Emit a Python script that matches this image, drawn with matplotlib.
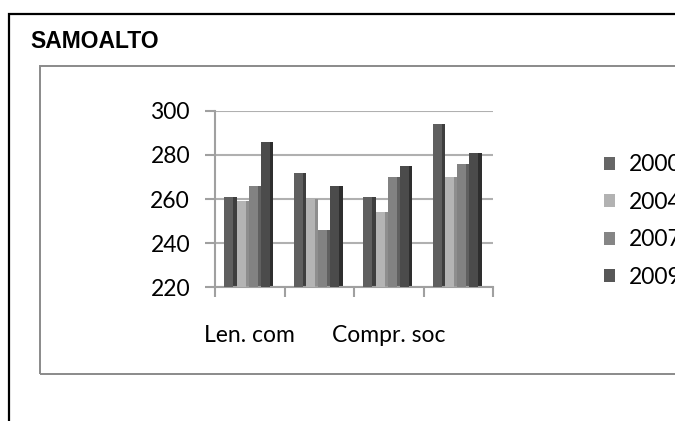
import matplotlib
matplotlib.use("Agg")
import matplotlib.pyplot as plt
from matplotlib.patches import Rectangle, Patch
import numpy as np

title = "SAMOALTO"
categories = ["Len. com", "", "Compr. soc", ""]
series_names = ["2000", "2004", "2007", "2009"]
v2000 = [261, 272, 261, 294]
v2004 = [259, 260, 254, 270]
v2007 = [266, 246, 270, 276]
v2009 = [286, 266, 275, 281]
yticks = [220, 240, 260, 280, 300]

values = [v2000, v2004, v2007, v2009]
front = ["#5f5f5f", "#b4b4b4", "#828282", "#4b4b4b"]
side = ["#3e3e3e", "#8e8e8e", "#606060", "#2e2e2e"]
legend_cols = ["#666666", "#b2b2b2", "#858585", "#575757"]

W, H = 675, 421
fig = plt.figure(figsize=(W / 100, H / 100), dpi=100)
fig.patch.set_facecolor("white")

def fx(px):
    return px / W

def fy(py):
    return 1 - py / H

# outer black frame (cut at right/bottom)
fig.patches.append(Rectangle((fx(9), fy(440)), fx(700), fy(14) - fy(440),
                             transform=fig.transFigure, fill=False,
                             edgecolor="black", linewidth=1.6))
# inner gray frame
fig.patches.append(Rectangle((fx(40), fy(374)), fx(700), fy(66) - fy(374),
                             transform=fig.transFigure, fill=False,
                             edgecolor="#8a8a8a", linewidth=1.4))

fig.text(fx(30), fy(42), title, fontsize=16.5, fontweight="bold",
         family="Liberation Sans", va="center", ha="left")

ax = fig.add_axes([fx(215), fy(287), fx(493) - fx(215), fy(111) - fy(287)])
ax.set_facecolor("none")
x = np.arange(len(categories))
bw = 0.175
sw = 0.045
for i, vals in enumerate(values):
    xs = x + (i - 1.5) * bw - 0.02
    ax.bar(xs + bw / 2 - sw / 2 + 0.005, np.array(vals) - 220, width=sw, bottom=220,
           color=side[i], zorder=2, linewidth=0)
    ax.bar(xs - sw / 2 + 0.005, np.array(vals) - 220, width=bw - sw, bottom=220,
           color=front[i], zorder=3, linewidth=0)

ax.set_ylim(220, 300)
ax.set_xlim(-0.5, len(categories) - 0.5)
ax.set_yticks(yticks)
ax.yaxis.grid(True, color="#b0b0b0", linewidth=1.5, zorder=0)
ax.set_axisbelow(True)
for s in ["top", "right"]:
    ax.spines[s].set_visible(False)
for s in ["left", "bottom"]:
    ax.spines[s].set_color("#a0a0a0")
    ax.spines[s].set_linewidth(1.5)

ax.set_xticks(np.arange(-0.5, len(categories)), minor=False)
ax.set_xticklabels([])
ax.set_xticks(x, minor=True)
ax.set_xticklabels(categories, minor=True, fontsize=16.5, family="Lato")
ax.tick_params(axis="x", which="major", direction="out", length=7,
               width=1.5, color="#a0a0a0")
ax.tick_params(axis="x", which="minor", length=0, pad=27)
ax.tick_params(axis="y", direction="out", length=7, width=1.5,
               color="#a0a0a0", pad=11, labelsize=16.5)
for lab in ax.get_yticklabels():
    lab.set_family("Lato")

handles = [Patch(facecolor=c, edgecolor="none") for c in legend_cols]
fig.legend(handles, series_names, loc="center left",
           bbox_to_anchor=(fx(604), fy(221)), frameon=False,
           prop={"family": "Lato", "size": 16.5}, handlelength=0.5,
           handleheight=0.5, handletextpad=0.6, labelspacing=0.72,
           borderpad=0, borderaxespad=0)

fig.savefig("out.png", dpi=100)
